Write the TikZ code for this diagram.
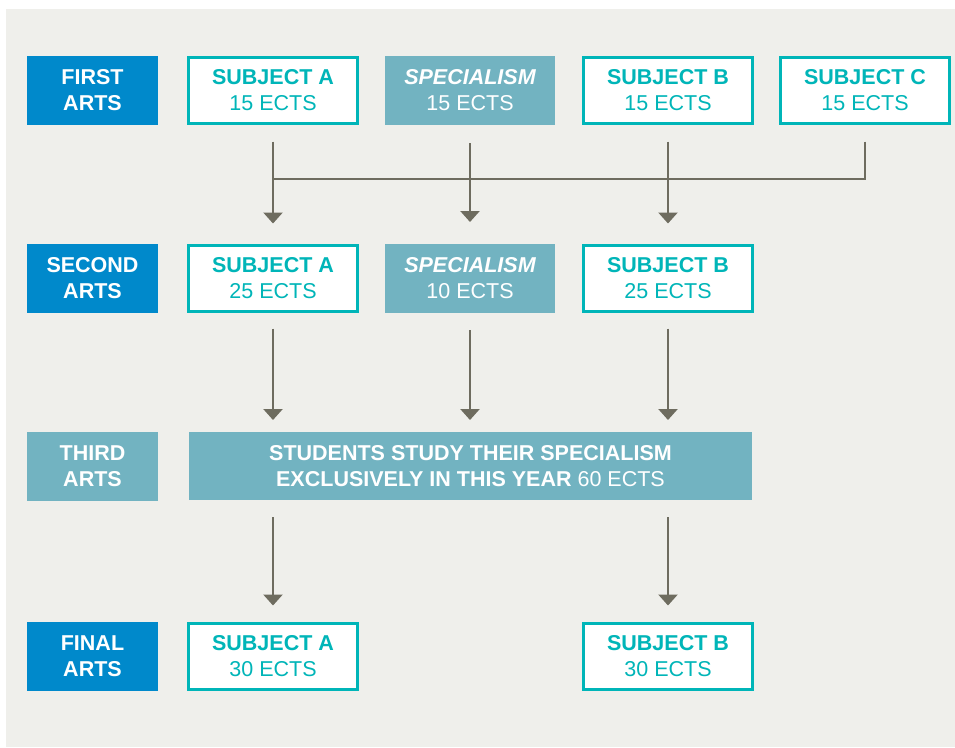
\documentclass[tikz,border=0pt]{standalone}
\usepackage{fontspec}
\setmainfont{Liberation Sans}
\usetikzlibrary{arrows.meta}
\definecolor{bg}{RGB}{239,239,235}
\definecolor{yearblue}{RGB}{0,137,203}
\definecolor{tealfill}{RGB}{114,179,193}
\definecolor{tealline}{RGB}{0,181,184}
\definecolor{arrowgrey}{RGB}{110,108,95}
\begin{document}
\begin{tikzpicture}[x=1pt,y=-1pt,
  toplift/.style={execute at begin node={\rule{0pt}{#1}}},
  base/.style={inner sep=0pt, outer sep=0pt, align=center, font=\fontsize{21.5}{26}\selectfont, toplift=18.4pt},
  yearbox/.style={base, fill=yearblue, text=white, minimum width=131pt, minimum height=69pt, font=\fontsize{21.5}{26}\selectfont\bfseries},
  yearlight/.style={yearbox, fill=tealfill, toplift=19.4pt},
  subjbox/.style={base, draw=tealline, line width=3pt, fill=white, text=tealline, minimum width=169pt, minimum height=66pt},
  specbox/.style={base, fill=tealfill, text=white, minimum width=170pt, minimum height=69pt, toplift=21.4pt},
  bigbox/.style={base, fill=tealfill, text=white, minimum width=563pt, minimum height=68pt, toplift=19.4pt},
  flow/.style={draw=arrowgrey, line width=2.5pt},
  flowarrow/.style={flow, -{Triangle[width=19pt,length=11pt]}},
]
\useasboundingbox (0,0) rectangle (955,747);
\fill[white] (0,0) rectangle (955,747);
\fill[bg] (6,9) rectangle (955,747);

% row 1
\node[yearbox] (y1) at (92.5,90.5) {FIRST\\ARTS};
\node[subjbox] (a1) at (273,90.5) {{\bfseries SUBJECT A}\\15 ECTS};
\node[specbox] (s1) at (470,90.5) {{\bfseries\itshape SPECIALISM}\\15 ECTS};
\node[subjbox] (b1) at (668,90.5) {{\bfseries SUBJECT B}\\15 ECTS};
\node[subjbox] (c1) at (865,90.5) {{\bfseries SUBJECT C}\\15 ECTS};

% row 2
\node[yearbox] (y2) at (92.5,278.5) {SECOND\\ARTS};
\node[subjbox] (a2) at (273,278.5) {{\bfseries SUBJECT A}\\25 ECTS};
\node[specbox] (s2) at (470,278.5) {{\bfseries\itshape SPECIALISM}\\10 ECTS};
\node[subjbox] (b2) at (668,278.5) {{\bfseries SUBJECT B}\\25 ECTS};

% row 3
\node[yearlight] (y3) at (92.5,466) {THIRD\\ARTS};
\node[bigbox] (big) at (470.5,466) {{\bfseries STUDENTS STUDY THEIR SPECIALISM}\\{\bfseries EXCLUSIVELY IN THIS YEAR} 60 ECTS};

% row 4
\node[yearbox] (y4) at (92.5,656.5) {FINAL\\ARTS};
\node[subjbox] (a4) at (273,656.5) {{\bfseries SUBJECT A}\\30 ECTS};
\node[subjbox] (b4) at (668,656.5) {{\bfseries SUBJECT B}\\30 ECTS};

% connectors row 1 -> row 2
\coordinate (busL) at (273,179);
\coordinate (busM) at (470,179);
\coordinate (busB) at (668,179);
\draw[flow, shorten <=18pt] (c1.south) |- (busL);
\draw[flow, shorten <=18pt] (a1.south) -- (busL);
\draw[flow, shorten <=18pt] (s1.south) -- (busM);
\draw[flow, shorten <=18pt] (b1.south) -- (busB);
\draw[flowarrow, shorten >=22pt] (busL) -- (a2.north);
\draw[flowarrow, shorten >=22pt] (busM) -- (s2.north);
\draw[flowarrow, shorten >=22pt] (busB) -- (b2.north);

% row 2 -> row 3
\draw[flowarrow, shorten <=17pt, shorten >=12pt] (a2.south) -- (a2.south |- big.north);
\draw[flowarrow, shorten <=17pt, shorten >=12pt] (s2.south) -- (s2.south |- big.north);
\draw[flowarrow, shorten <=17pt, shorten >=12pt] (b2.south) -- (b2.south |- big.north);

% row 3 -> row 4
\draw[flowarrow, shorten <=17pt, shorten >=18pt] (a4.north |- big.south) -- (a4.north);
\draw[flowarrow, shorten <=17pt, shorten >=18pt] (b4.north |- big.south) -- (b4.north);
\end{tikzpicture}
\end{document}
